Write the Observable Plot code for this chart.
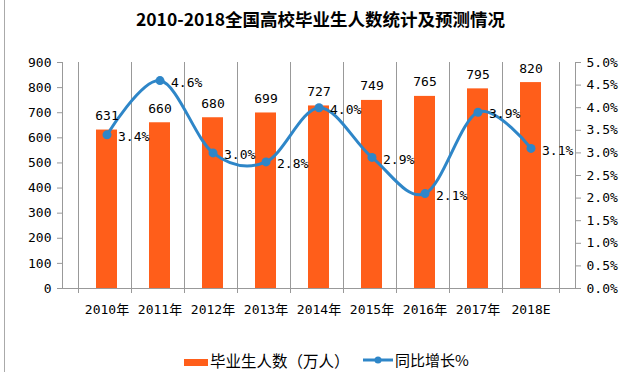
<!DOCTYPE html>
<html><head><meta charset="utf-8">
<script src="https://cdn.jsdelivr.net/npm/d3@7"></script>
<script src="https://cdn.jsdelivr.net/npm/@observablehq/plot@0.6"></script>
<style>
body{margin:0;background:#fff;width:631px;height:372px;overflow:hidden;position:relative;font-family:"DejaVu Sans Mono","Noto Sans CJK SC",monospace;}
#border{position:absolute;left:4px;top:0;width:1px;height:372px;background:#aaa;}
#title{height:36px;line-height:38px;text-align:center;font-family:"Noto Sans CJK SC","DejaVu Serif",serif;font-size:17.5px;font-weight:bold;color:#000;padding-left:10px;white-space:nowrap;}
#legend{position:absolute;left:0;top:349px;width:631px;height:22px;font-family:"Noto Sans CJK SC",sans-serif;font-size:15.5px;color:#000;}
.li{position:absolute;top:0;height:22px;line-height:22px;white-space:nowrap;}
</style></head>
<body>
<div id="border"></div>
<div id="title">2010-2018全国高校毕业生人数统计及预测情况</div>
<div id="chart"></div>
<div id="legend">
  <div class="li" style="left:184px;"><span style="display:inline-block;width:24px;height:7px;background:#FF5E1A;vertical-align:middle;margin-right:2px;"></span>毕业生人数（万人）</div>
  <div class="li" style="left:363px;font-size:15px;"><svg width="32" height="22" style="vertical-align:top"><line x1="0" y1="11" x2="30" y2="11" stroke="#2E86C8" stroke-width="3"/><circle cx="15" cy="11" r="3.5" fill="#2E86C8"/></svg>同比增长%</div>
</div>
<script>
const years = ["2010年","2011年","2012年","2013年","2014年","2015年","2016年","2017年","2018E"];
const graduates = [631,660,680,699,727,749,765,795,820];
const growth = [3.4,4.6,3.0,2.8,4.0,2.9,2.1,3.9,3.1];
const leftTicks = [0,100,200,300,400,500,600,700,800,900];
const rightTicks = [0,0.5,1,1.5,2,2.5,3,3.5,4,4.5,5];
const k = 900/5;
const data = years.map((y,i)=>({year:y, g:graduates[i], p:growth[i], pv:growth[i]*k}));
const orange = "#FF5E1A", blue = "#2E86C8";
const W = 631, ML = 62, MR = 56;
const step = (W - ML - MR) / years.length;
const chart = Plot.plot({
  width:W, height:290,
  marginLeft:ML, marginRight:MR, marginTop:26, marginBottom:38,
  style:{fontFamily:'"DejaVu Sans Mono","Noto Sans CJK SC",monospace', fontSize:"13px", color:"#000", background:"#fff"},
  x:{domain:years, padding:0.6, label:null},
  y:{domain:[0,900], label:null},
  marks:[
    Plot.barY(data,{x:"year", y:"g", fill:orange}),
    Plot.frame({anchor:"left", stroke:"#999"}),
    Plot.frame({anchor:"right", stroke:"#999"}),
    Plot.axisY({ticks:leftTicks, tickSize:5, tickPadding:6, fontSize:13, label:null, stroke:"#999"}),
    Plot.axisY({anchor:"right", ticks:rightTicks.map(t=>t*k), tickFormat:d=>(d/k).toFixed(1)+"%", tickSize:5, tickPadding:6, fontSize:13, label:null, stroke:"#999"}),
    Plot.axisX({tickSize:0, tickPadding:16, fontSize:13, label:null}),
    Plot.tickX(years,{x:d=>d, y1:0, y2:0, dx:-step/2, stroke:"#999", insetBottom:-5}),
    Plot.tickX(years.slice(-1),{x:d=>d, y1:0, y2:0, dx:step/2, stroke:"#999", insetBottom:-5}),
    Plot.ruleY([0],{stroke:"#999"}),
    Plot.line(data,{x:"year", y:"pv", stroke:blue, strokeWidth:3, curve:"cardinal"}),
    Plot.dot(data,{x:"year", y:"pv", fill:blue, r:4.5}),
    Plot.text(data,{x:"year", y:"g", text:d=>String(d.g), lineAnchor:"bottom", dy:-10, fontSize:13}),
    Plot.text(data,{x:"year", y:"pv", text:d=>d.p.toFixed(1)+"%", textAnchor:"start", dx:11, dy:2, fontSize:13})
  ]
});
document.getElementById("chart").appendChild(chart);
</script>
</body></html>
